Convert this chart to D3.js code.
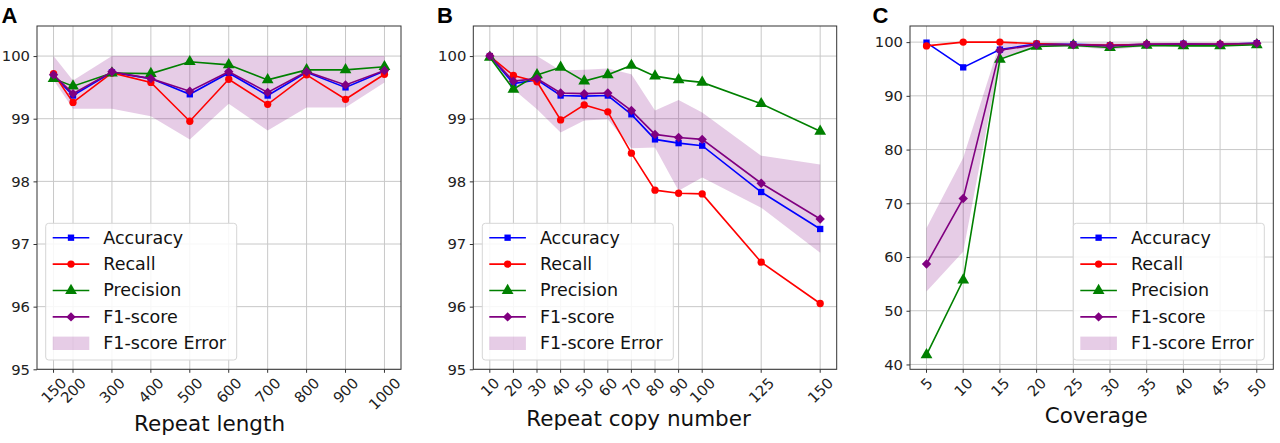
<!DOCTYPE html>
<html>
<head>
<meta charset="utf-8">
<script src="https://cdn.jsdelivr.net/npm/d3@7"></script>
<style>
  html, body { margin: 0; padding: 0; background: #fff; }
  svg { display: block; }
</style>
</head>
<body>
<svg id="chart" width="1280" height="443"></svg>
<script>
// ---- data ----
const lengthTicks = [150, 200, 300, 400, 500, 600, 700, 800, 900, 1000];
const lengthAccuracy = [99.69, 99.37, 99.74, 99.64, 99.39, 99.73, 99.37, 99.74, 99.50, 99.76];
const lengthRecall = [99.72, 99.26, 99.73, 99.58, 98.96, 99.63, 99.23, 99.70, 99.31, 99.71];
const lengthPrecision = [99.64, 99.52, 99.73, 99.72, 99.91, 99.86, 99.62, 99.78, 99.78, 99.83];
const lengthF1 = [99.70, 99.40, 99.75, 99.64, 99.44, 99.75, 99.42, 99.75, 99.54, 99.77];
const lengthF1Low = [99.62, 99.16, 99.16, 99.04, 98.67, 99.24, 98.81, 99.18, 99.18, 99.58];
const lengthF1High = [100, 99.61, 100, 100, 100, 100, 100, 100, 100, 100];

const copyTicks = [10, 20, 30, 40, 50, 60, 70, 80, 90, 100, 125, 150];
const copyAccuracy = [100, 99.56, 99.62, 99.37, 99.36, 99.37, 99.07, 98.67, 98.61, 98.57, 97.83, 97.24];
const copyRecall = [100, 99.69, 99.59, 98.98, 99.22, 99.11, 98.45, 97.86, 97.81, 97.80, 96.71, 96.05];
const copyPrecision = [99.98, 99.47, 99.70, 99.82, 99.60, 99.70, 99.85, 99.68, 99.62, 99.58, 99.24, 98.80];
const copyF1 = [100, 99.60, 99.64, 99.41, 99.40, 99.41, 99.13, 98.75, 98.70, 98.67, 97.97, 97.40];
const copyF1Low = [100, 99.47, 99.15, 98.78, 98.97, 98.99, 98.53, 98.54, 97.85, 98.06, 97.58, 96.86];
const copyF1High = [100, 100, 100, 99.77, 99.78, 99.80, 99.71, 99.13, 99.30, 99.10, 98.41, 98.27];

const coverageTicks = [5, 10, 15, 20, 25, 30, 35, 40, 45, 50];
const coverageAccuracy = [99.9, 95.3, 98.6, 99.7, 99.6, 99.4, 99.6, 99.7, 99.6, 99.8];
const coverageRecall = [99.3, 100, 100, 99.7, 99.5, 99.4, 99.6, 99.6, 99.6, 99.7];
const coveragePrecision = [41.8, 55.7, 96.8, 99.2, 99.4, 99.0, 99.4, 99.3, 99.3, 99.5];
const coverageF1 = [58.7, 70.9, 98.5, 99.5, 99.5, 99.3, 99.6, 99.6, 99.6, 99.8];
const coverageF1Low = [53.6, 61.0, 97.0, 99.1, 99.2, 98.6, 99.2, 99.2, 99.2, 99.5];
const coverageF1High = [65.4, 78.5, 99.9, 99.9, 99.9, 99.8, 99.9, 99.9, 99.9, 100];

const scoreTicksAB = [95, 96, 97, 98, 99, 100];
const scoreTicksC = [40, 50, 60, 70, 80, 90, 100];

const seriesNames = ["Accuracy", "Recall", "Precision", "F1-score"];
const bandName = "F1-score Error";

// ---- styling ----
const colors = { "Accuracy": "#0000ff", "Recall": "#ff0000", "Precision": "#008000", "F1-score": "#800080" };
const bandFill = "#800080";
const tickFont = 14.8;
const font = "'DejaVu Sans', sans-serif";

const svg = d3.select("#chart");

function markerPath(name) {
  if (name === "Accuracy") return d3.symbol(d3.symbolSquare, 40)();
  if (name === "Recall") return d3.symbol(d3.symbolCircle, 42)();
  if (name === "Precision") return d3.symbol(d3.symbolTriangle, 60)();
  return "M0,-4.7L4.7,0L0,4.7L-4.7,0Z";
}

function drawPanel(p) {
  const g = svg.append("g");
  const x = d3.scaleLinear().domain(p.xDomain).range([p.left, p.right]);
  const y = d3.scaleLinear().domain(p.yDomain).range([p.bottom, p.top]);

  // grid
  g.append("g").selectAll("line").data(p.xTicks).join("line")
    .attr("x1", d => x(d)).attr("x2", d => x(d)).attr("y1", p.top).attr("y2", p.bottom)
    .attr("stroke", "#c8c8c8").attr("stroke-width", 1);
  g.append("g").selectAll("line").data(p.yTicks).join("line")
    .attr("y1", d => y(d)).attr("y2", d => y(d)).attr("x1", p.left).attr("x2", p.right)
    .attr("stroke", "#c8c8c8").attr("stroke-width", 1);

  // error band
  const band = d3.area().x((d, i) => x(p.xs[i])).y0(d => y(d[0])).y1(d => y(d[1]));
  g.append("path").datum(p.low.map((v, i) => [v, p.high[i]]))
    .attr("d", band).attr("fill", bandFill).attr("fill-opacity", 0.2);

  // series
  const line = d3.line().x((d, i) => x(p.xs[i])).y(d => y(d));
  seriesNames.forEach((name, k) => {
    const vals = p.series[k];
    g.append("path").datum(vals).attr("d", line)
      .attr("fill", "none").attr("stroke", colors[name]).attr("stroke-width", 1.6);
    g.append("g").selectAll("path").data(vals).join("path")
      .attr("d", markerPath(name))
      .attr("transform", (d, i) => `translate(${x(p.xs[i])},${y(d)})`)
      .attr("fill", colors[name]);
  });

  // frame
  g.append("rect").attr("x", p.left).attr("y", p.top)
    .attr("width", p.right - p.left).attr("height", p.bottom - p.top)
    .attr("fill", "none").attr("stroke", "#333").attr("stroke-width", 1);

  // y axis ticks + labels
  const yAxis = d3.axisLeft(y).tickValues(p.yTicks).tickSize(3.5).tickPadding(3.5).tickFormat(d3.format("d"));
  const ya = g.append("g").attr("transform", `translate(${p.left},0)`).call(yAxis);
  ya.select(".domain").remove();
  ya.selectAll("line").attr("stroke", "#333");
  ya.selectAll("text").attr("font-family", font).attr("font-size", tickFont).attr("fill", "#222");

  // x ticks
  g.append("g").selectAll("line").data(p.xTicks).join("line")
    .attr("x1", d => x(d)).attr("x2", d => x(d)).attr("y1", p.bottom).attr("y2", p.bottom + 3.5)
    .attr("stroke", "#333");
  const xl = g.append("g").selectAll("text").data(p.xTicks).join("text")
    .attr("font-family", font).attr("font-size", tickFont).attr("fill", "#222")
    .attr("text-anchor", "middle").attr("dominant-baseline", "central")
    .text(d => d);
  xl.each(function (d) {
    const w = this.getComputedTextLength();
    const cy = p.bottom + 7 + (w + 0.75 * tickFont) / (2 * Math.SQRT2);
    d3.select(this).attr("transform", `translate(${x(d)},${cy}) rotate(-45)`);
  });

  // axis title + panel letter
  g.append("text").attr("x", p.labelX).attr("y", p.labelY)
    .attr("text-anchor", "middle").attr("font-family", font).attr("font-size", 21.5).attr("fill", "#111")
    .text(p.label);
  g.append("text").attr("x", p.letterX).attr("y", 22.7)
    .attr("font-family", "'Liberation Sans', Arial, sans-serif").attr("font-weight", "bold")
    .attr("font-size", 22).attr("fill", "#000").text(p.letter);

  // legend
  const lg = g.append("g").attr("transform", `translate(${p.legendX},223.3)`);
  lg.append("rect").attr("width", 191).attr("height", 136.7).attr("rx", 3)
    .attr("fill", "#fff").attr("fill-opacity", 0.85).attr("stroke", "#d6d6d6");
  seriesNames.forEach((name, k) => {
    const ry = 14.4 + k * 26.4;
    lg.append("line").attr("x1", 7).attr("x2", 43.6).attr("y1", ry).attr("y2", ry)
      .attr("stroke", colors[name]).attr("stroke-width", 1.6);
    lg.append("path").attr("d", markerPath(name)).attr("transform", `translate(25.3,${ry})`)
      .attr("fill", colors[name]);
    lg.append("text").attr("x", 57.6).attr("y", ry).attr("dominant-baseline", "central")
      .attr("font-family", font).attr("font-size", 17.5).attr("fill", "#111").text(name);
  });
  const by = 14.4 + 4 * 26.4;
  lg.append("rect").attr("x", 7).attr("y", by - 6.7).attr("width", 36.6).attr("height", 13.4)
    .attr("fill", bandFill).attr("fill-opacity", 0.2);
  lg.append("text").attr("x", 57.6).attr("y", by).attr("dominant-baseline", "central")
    .attr("font-family", font).attr("font-size", 17.5).attr("fill", "#111").text(bandName);
}

drawPanel({
  letter: "A", letterX: 1.5, left: 37, right: 401, top: 26, bottom: 369.3,
  xDomain: [107.5, 1042.5], yDomain: [95, 100.48],
  xs: lengthTicks, xTicks: lengthTicks, yTicks: scoreTicksAB,
  series: [lengthAccuracy, lengthRecall, lengthPrecision, lengthF1],
  low: lengthF1Low, high: lengthF1High,
  label: "Repeat length", labelX: 209.5, labelY: 431,
  legendX: 45.7
});
drawPanel({
  letter: "B", letterX: 437, left: 473.3, right: 836.7, top: 26, bottom: 369.3,
  xDomain: [3, 157], yDomain: [95, 100.48],
  xs: copyTicks, xTicks: copyTicks, yTicks: scoreTicksAB,
  series: [copyAccuracy, copyRecall, copyPrecision, copyF1],
  low: copyF1Low, high: copyF1High,
  label: "Repeat copy number", labelX: 638.5, labelY: 425.5,
  legendX: 482.3
});
drawPanel({
  letter: "C", letterX: 872.5, left: 910, right: 1273.3, top: 26, bottom: 369.3,
  xDomain: [2.75, 52.25], yDomain: [39.1, 103],
  xs: coverageTicks, xTicks: coverageTicks, yTicks: scoreTicksC,
  series: [coverageAccuracy, coverageRecall, coveragePrecision, coverageF1],
  low: coverageF1Low, high: coverageF1High,
  label: "Coverage", labelX: 1096.3, labelY: 423,
  legendX: 1073.3
});
</script>
</body>
</html>
